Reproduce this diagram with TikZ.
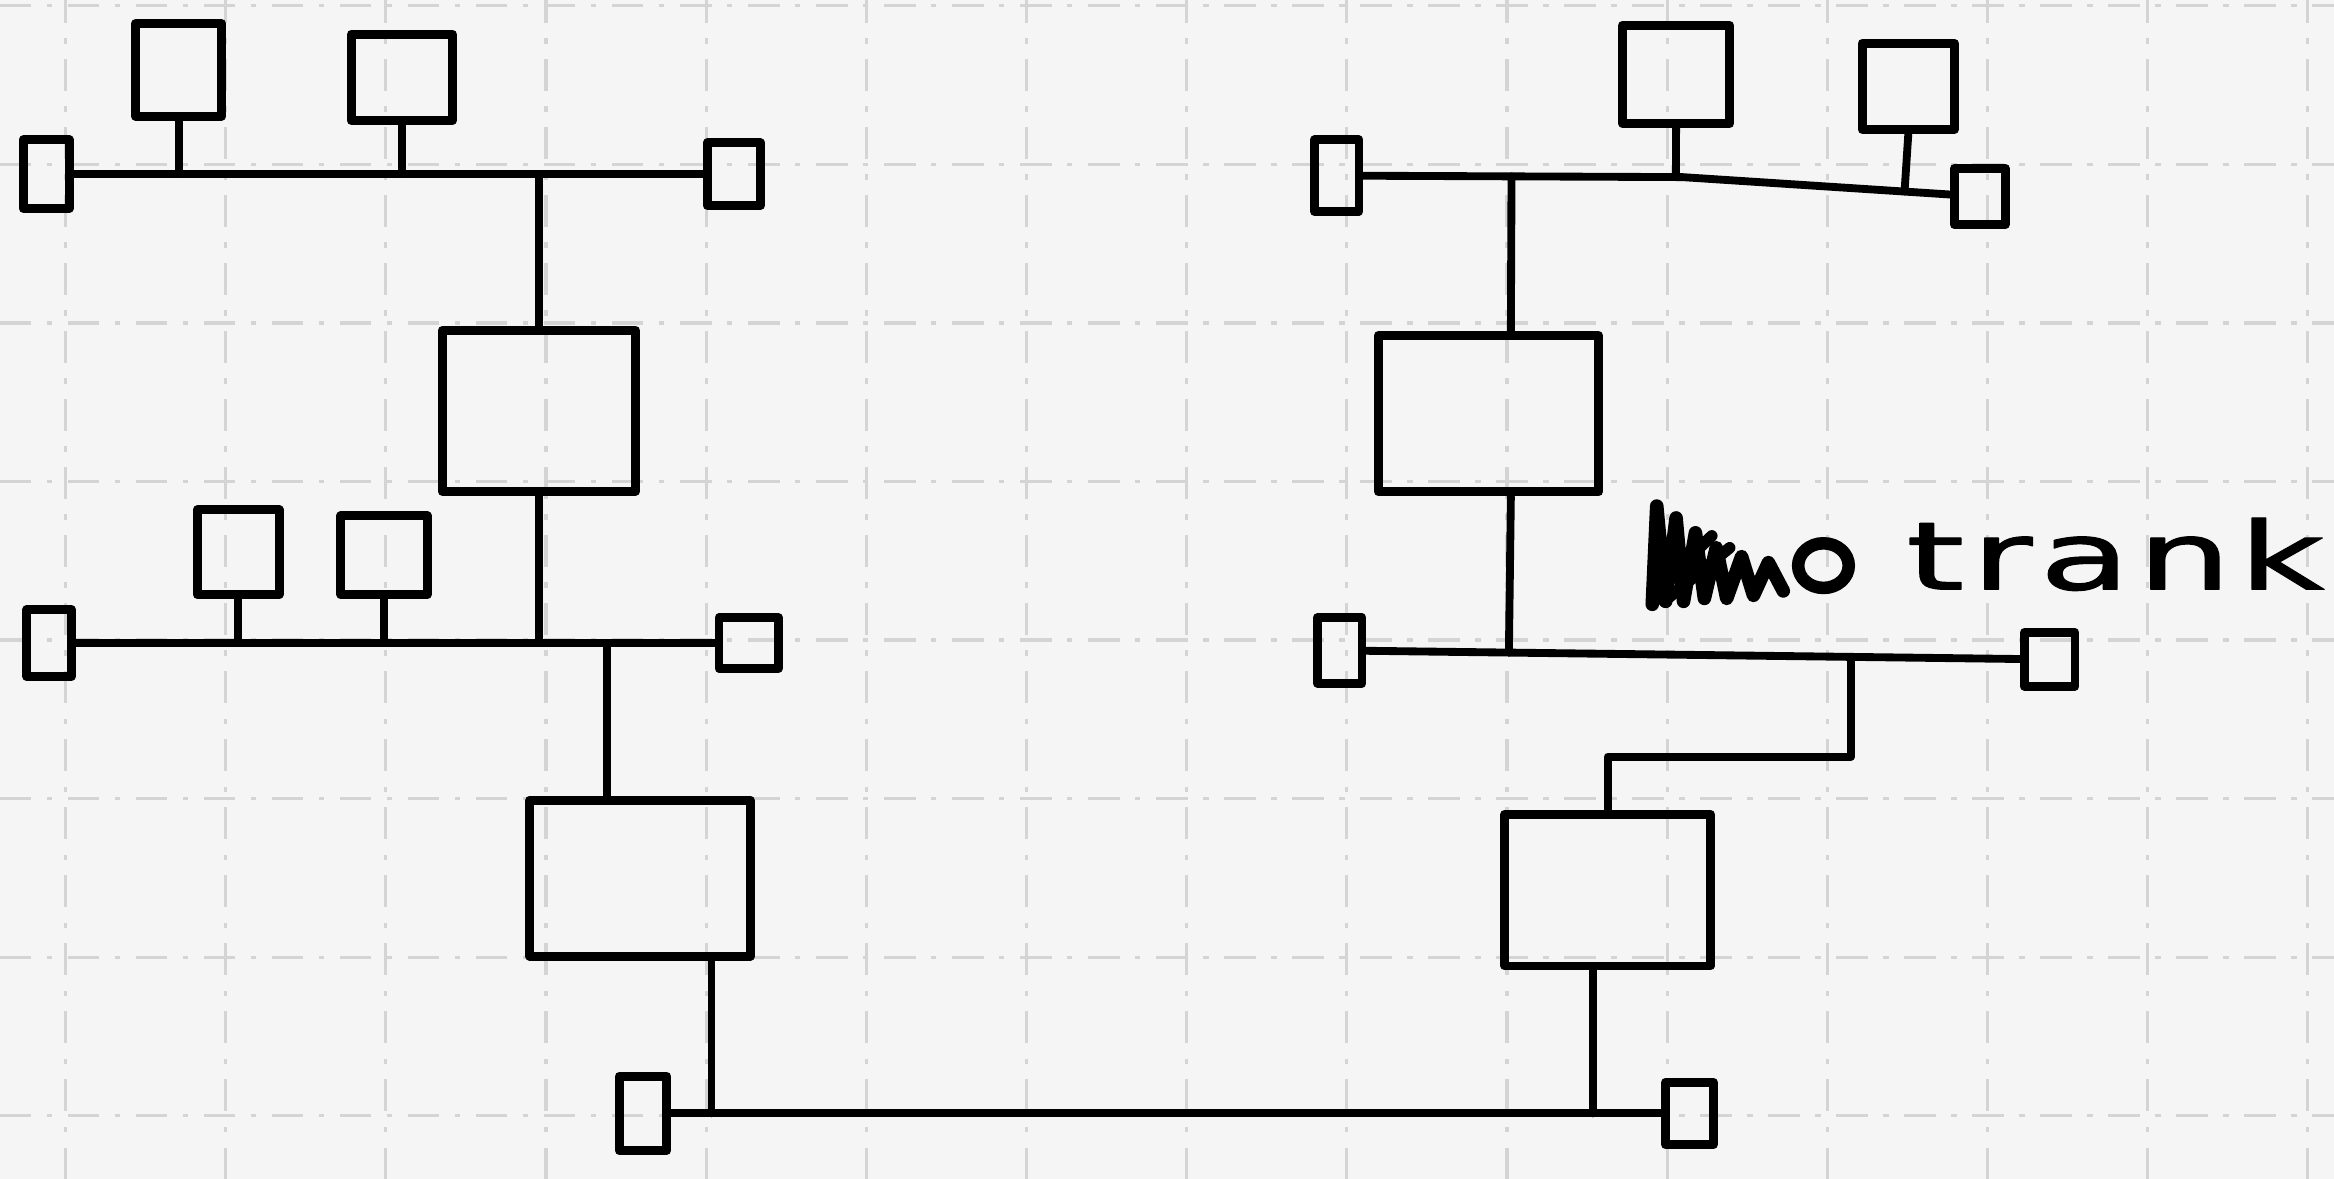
\documentclass[tikz,border=0pt]{standalone}
\usepackage{fontspec}
\newfontfamily\handfont[LetterSpace=5,FakeBold=1.2]{DejaVu Sans}
\usetikzlibrary{positioning, calc}

\begin{document}
\begin{tikzpicture}[line width=1.5pt, line join=round, line cap=round,
  box/.style={draw,line width=1.7pt,inner sep=0pt},
  gridln/.style={black!17,line width=0.6pt,line cap=butt,dash pattern=on 6pt off 3pt on 1pt off 3pt}]
  \fill[black!4] (0,0) rectangle (15.68,7.92);
  \useasboundingbox (0,0) rectangle (15.68,7.92);
  \foreach \i in {0,...,14} \draw[gridln] ({0.44+1.076*\i},0) -- ({0.44+1.076*\i},7.92);
  \foreach \j in {0,...,7} \draw[gridln] (0,{7.88-1.065*\j}) -- (15.68,{7.88-1.065*\j});

  \node[box,minimum width=3.1mm,minimum height=4.6mm] (a1) at (0.31,6.75) {};
  \node[box,minimum width=3.6mm,minimum height=4.2mm] (a2) at (4.93,6.75) {};
  \node[box,minimum width=5.8mm,minimum height=6.2mm] (g1) at (1.20,7.45) {};
  \node[box,minimum width=6.8mm,minimum height=5.8mm] (g2) at (2.70,7.40) {};
  \node[box,minimum width=13mm,minimum height=10.8mm] (m1) at (3.62,5.16) {};
  \node[box,minimum width=3.0mm,minimum height=4.5mm] (b1) at (0.33,3.60) {};
  \node[box,minimum width=4.0mm,minimum height=3.4mm] (b2) at (5.03,3.60) {};
  \node[box,minimum width=5.5mm,minimum height=5.7mm] (g3) at (1.60,4.21) {};
  \node[box,minimum width=5.8mm,minimum height=5.3mm] (g4) at (2.58,4.19) {};
  \node[box,minimum width=14.8mm,minimum height=10.5mm] (m2) at (4.30,2.02) {};
  \node[box,minimum width=3.2mm,minimum height=5.0mm] (c1) at (4.32,0.44) {};
  \node[box,minimum width=3.2mm,minimum height=4.2mm] (c2) at (11.35,0.44) {};
  \node[box,minimum width=3.0mm,minimum height=4.8mm] (d1) at (8.98,6.74) {};
  \node[box,minimum width=3.4mm,minimum height=3.8mm] (d2) at (13.30,6.60) {};
  \node[box,minimum width=7.2mm,minimum height=6.6mm] (g5) at (11.26,7.42) {};
  \node[box,minimum width=6.2mm,minimum height=5.8mm] (g6) at (12.82,7.34) {};
  \node[box,minimum width=14.8mm,minimum height=10.5mm] (m3) at (10.00,5.14) {};
  \node[box,minimum width=3.0mm,minimum height=4.4mm] (e1) at (9.00,3.55) {};
  \node[box,minimum width=3.4mm,minimum height=3.6mm] (e2) at (13.77,3.49) {};
  \node[box,minimum width=13.8mm,minimum height=10.2mm] (m4) at (10.80,1.94) {};

  \coordinate (dk) at (11.30,6.73);
  \coordinate (m2n) at ([xshift=-2.2mm]m2.north);
  \coordinate (m2s) at ([xshift=4.8mm]m2.south);
  \coordinate (m3n) at ([xshift=1.5mm]m3.north);
  \coordinate (m3s) at ([xshift=1.5mm]m3.south);
  \coordinate (m4s) at ([xshift=-1mm]m4.south);
  \coordinate (ej) at ($(e1)!0.72!(e2)$);

  \draw (a1) -- (a2);
  \draw (g1.south) -- (g1.south |- a1);
  \draw (g2.south) -- (g2.south |- a1);
  \draw (m1.north) -- (m1.north |- a1);
  \draw (m1.south) -- (m1.south |- b1);
  \draw (b1) -- (b2);
  \draw (g3.south) -- (g3.south |- b1);
  \draw (g4.south) -- (g4.south |- b1);
  \draw (m2n) -- (m2n |- b1);
  \draw (m2s) -- (m2s |- c1);
  \draw (c1) -- (c2);
  \draw (m4s) -- (m4s |- c1);
  \draw (d1) -- (dk) -- (d2);
  \draw (g5.south) -- ($(d1)!(g5.south)!(dk)$);
  \draw (g6.south) -- ($(dk)!(g6.south)!(d2)$);
  \draw (m3n) -- ($(d1)!(m3n)!(dk)$);
  \draw (m3s) -- ($(e1)!(m3s)!(e2)$);
  \draw (e1) -- (e2);
  \draw (ej) -- ++(0,-0.67) -| (m4.north);

  \draw[line width=2.6pt] (11.10,3.86) -- (11.13,4.52) -- (11.19,3.88) -- (11.26,4.44) -- (11.31,3.88) -- (11.39,4.34) -- (11.45,3.90) -- (11.53,4.24) -- (11.60,3.90) -- (11.70,4.18) -- (11.78,3.92) -- (11.88,4.14) -- (11.98,3.95);
  \draw[line width=2.2pt] (11.12,3.95) -- (11.50,4.32) (11.18,3.88) -- (11.62,4.24);
  \draw[line width=2.4pt] (12.25,4.12) ellipse [x radius=0.17cm, y radius=0.15cm];
  \node[font=\handfont\fontsize{18}{21}\selectfont,inner sep=0pt,anchor=base west] (lbl) at (12.78,3.96) {\scalebox{1.57}[1]{trank}};
\end{tikzpicture}
\end{document}
